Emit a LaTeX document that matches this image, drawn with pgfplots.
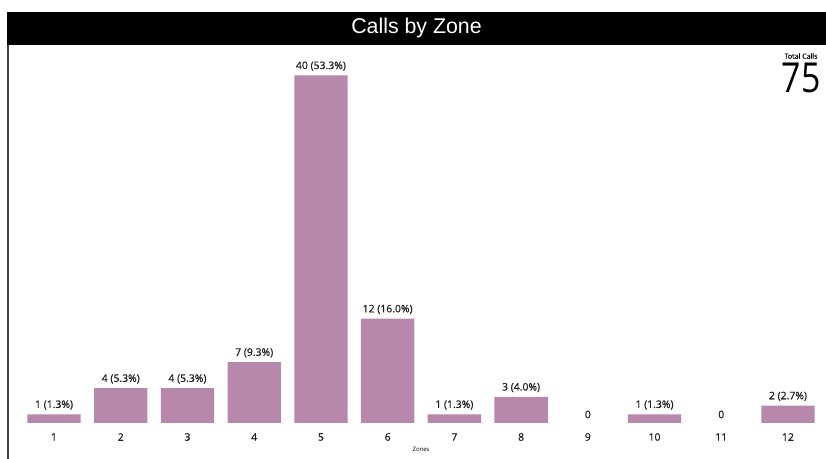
\documentclass[border=0pt]{standalone}
\usepackage{pgfplots}
\pgfplotsset{compat=1.18}
\usepackage{pgfplotstable}
\usepackage{fontspec}
\setmainfont{Open Sans}
\newfontfamily\labfont[FakeBold=0.7]{Open Sans}
\newfontfamily\titlefont{Liberation Sans}

\definecolor{barpink}{RGB}{184,135,172}
\definecolor{labgray}{RGB}{30,30,30}

% zone, calls, label
\pgfplotstableread[col sep=comma]{
x,y,lab
1,1,1 (1.3\%)
2,4,4 (5.3\%)
3,4,4 (5.3\%)
4,7,7 (9.3\%)
5,40,40 (53.3\%)
6,12,12 (16.0\%)
7,1,1 (1.3\%)
8,3,3 (4.0\%)
9,0,0
10,1,1 (1.3\%)
11,0,0
12,2,2 (2.7\%)
}\zonedata

\begin{document}
\begin{tikzpicture}
  \path[use as bounding box] (0,0) rectangle (619.5pt,344.25pt);
  % title bar
  \fill[black] (5.25pt,310.5pt) rectangle (619.5pt,335.25pt);
  \node[text=white,font=\titlefont\fontsize{16}{18}\selectfont] at (312.4pt,322.9pt) {Calls by Zone};
  % left rule
  \draw[line width=1.3pt, black!75] (6pt,0pt) -- (6pt,310.5pt);

  \begin{axis}[
    at={(6pt,27pt)}, anchor=south west,
    scale only axis,
    width=613.5pt, height=283.5pt,
    xmin=0.31, xmax=12.57,
    ymin=0, ymax=43.5,
    axis lines=none,
    ybar, bar width=40pt, bar shift=0pt,
    xtick=data,
    ytick=\empty,
    clip=false,
  ]
    % bars (empty zones left out)
    \addplot[fill=barpink, draw=none, unbounded coords=discard,
      y filter/.expression={y==0 ? nan : y}]
      table[x=x, y=y] {\zonedata};
    % value labels
    \addplot[fill=none, draw=none, nodes near coords,
      point meta=explicit symbolic,
      every node near coord/.append style={font=\labfont\fontsize{7.8}{9}\selectfont, text=labgray}]
      table[x=x, y=y, meta=lab] {\zonedata};
    \pgfplotsinvokeforeach{1,...,12}{
      \node[font=\labfont\fontsize{7.8}{9}\selectfont, text=labgray] at (axis cs:#1,0) [yshift=-10.5pt] {#1};
    }
    \node[font=\fontsize{4.5}{5}\selectfont] at (rel axis cs:0.505,0) [yshift=-19.5pt] {Zones};
  \end{axis}

  % total calls box
  \node[font=\labfont\fontsize{5.3}{6}\selectfont] at (600.75pt,302.25pt) {Total Calls};
  \node[font=\fontsize{31}{34}\selectfont] at (601pt,285.75pt) {\scalebox{0.82}[1]{75}};
\end{tikzpicture}
\end{document}
